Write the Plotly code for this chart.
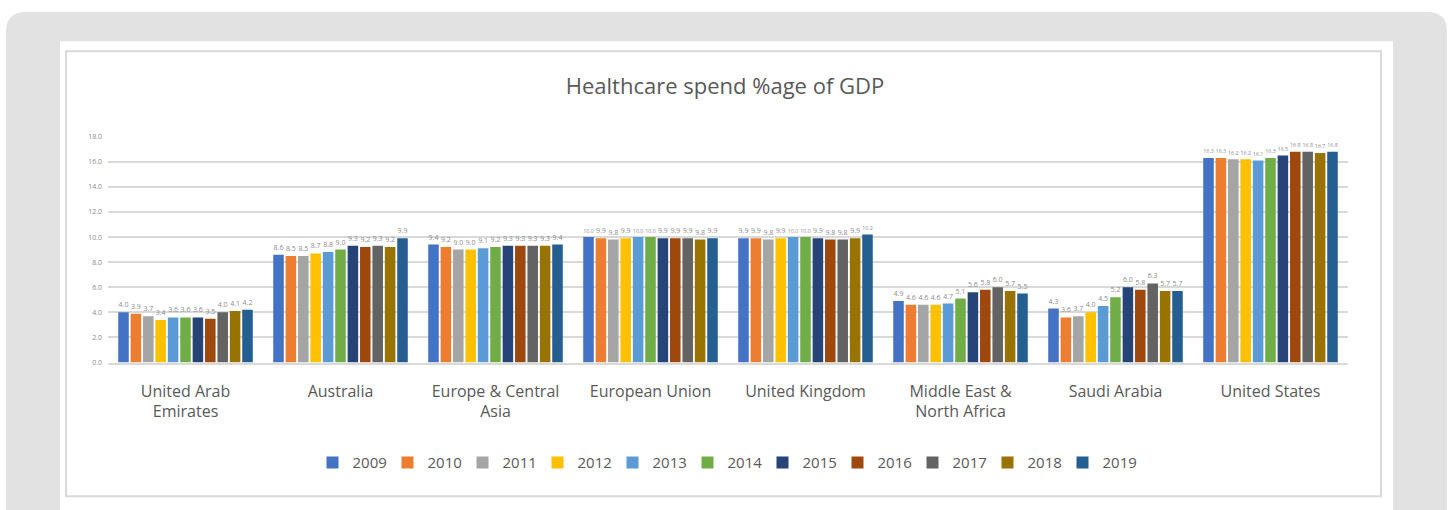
import plotly.graph_objects as go

W, H = 1451, 510

categories = ["United Arab<br>Emirates", "Australia", "Europe & Central<br>Asia", "European Union",
              "United Kingdom", "Middle East &<br>North Africa", "Saudi Arabia", "United States"]
years = ["2009", "2010", "2011", "2012", "2013", "2014", "2015", "2016", "2017", "2018", "2019"]

# values per year across the 8 regions
v2009 = [4.0, 8.6, 9.4, 10.0, 9.9, 4.9, 4.3, 16.3]
v2010 = [3.9, 8.5, 9.2, 9.9, 9.9, 4.6, 3.6, 16.3]
v2011 = [3.7, 8.5, 9.0, 9.8, 9.8, 4.6, 3.7, 16.2]
v2012 = [3.4, 8.7, 9.0, 9.9, 9.9, 4.6, 4.0, 16.2]
v2013 = [3.6, 8.8, 9.1, 10.0, 10.0, 4.7, 4.5, 16.1]
v2014 = [3.6, 9.0, 9.2, 10.0, 10.0, 5.1, 5.2, 16.3]
v2015 = [3.6, 9.3, 9.3, 9.9, 9.9, 5.6, 6.0, 16.5]
v2016 = [3.5, 9.2, 9.3, 9.9, 9.8, 5.8, 5.8, 16.8]
v2017 = [4.0, 9.3, 9.3, 9.9, 9.8, 6.0, 6.3, 16.8]
v2018 = [4.1, 9.2, 9.3, 9.8, 9.9, 5.7, 5.7, 16.7]
v2019 = [4.2, 9.9, 9.4, 9.9, 10.2, 5.5, 5.7, 16.8]
series = [v2009, v2010, v2011, v2012, v2013, v2014, v2015, v2016, v2017, v2018, v2019]

colors = ["#4472C4", "#ED7D31", "#A5A5A5", "#FFC000", "#5B9BD5", "#70AD47",
          "#264478", "#9E480E", "#636363", "#997300", "#255E91"]

y_ticks = [0, 2, 4, 6, 8, 10, 12, 14, 16, 18]

fig = go.Figure()
for yr, vals, col in zip(years, series, colors):
    fig.add_trace(go.Bar(
        x=categories, y=vals, name=yr, marker=dict(color=col, line=dict(width=0)),
        text=[f"{v:.1f}" for v in vals], textposition="outside",
        textfont=dict(size=7, color="#8c8c8c", family="Open Sans"),
        cliponaxis=False,
    ))

def px(x): return x / W
def py(y): return 1 - y / H

r = 20
shapes = [
    # outer gray rounded panel
    dict(type="path", xref="paper", yref="paper",
         path=f"M {px(6)},{py(530)} L {px(6)},{py(7 + r)} Q {px(6)},{py(7)} {px(6 + r)},{py(7)} "
              f"L {px(1447 - r)},{py(7)} Q {px(1447)},{py(7)} {px(1447)},{py(7 + r)} "
              f"L {px(1447)},{py(530)} Z",
         fillcolor="#e2e2e2", line=dict(width=0), layer="below"),
    dict(type="rect", xref="paper", yref="paper", x0=px(60), x1=px(1393), y0=py(530), y1=py(37),
         fillcolor="white", line=dict(width=0), layer="below"),
    dict(type="rect", xref="paper", yref="paper", x0=px(66), x1=px(1381), y0=py(500), y1=py(47),
         fillcolor="rgba(0,0,0,0)", line=dict(color="#d9d9d9", width=2), layer="below"),
]

fig.update_layout(
    width=W, height=H,
    margin=dict(l=0, r=0, t=0, b=0),
    paper_bgcolor="white", plot_bgcolor="rgba(0,0,0,0)",
    barmode="group", bargap=0.12, bargroupgap=0.15,
    shapes=shapes,
    title=dict(text="Healthcare spend %age of GDP", x=725 / W, xanchor="center",
               y=py(86), yanchor="middle",
               font=dict(size=22, color="#595959", family="Open Sans")),
    font=dict(family="Open Sans", color="#595959"),
    xaxis=dict(domain=[px(108), px(1348)], showgrid=False, showline=True,
               linecolor="#d9d9d9", linewidth=1.5, ticks="",
               tickfont=dict(size=16, color="#595959"), ticklabelstandoff=13),
    yaxis=dict(domain=[py(364), py(134)], range=[0, 18], tickvals=y_ticks,
               tickformat=".1f", showgrid=True, gridcolor="#d9d9d9", gridwidth=1.5,
               zeroline=False, showline=False, ticks="", ticklabelstandoff=5,
               tickfont=dict(size=7, color="#8c8c8c")),
    legend=dict(orientation="h", x=725 / W, xanchor="center", y=py(466), yanchor="middle",
                font=dict(size=15, color="#595959"), entrywidth=30, traceorder="normal",
                bgcolor="rgba(0,0,0,0)"),
    showlegend=True,
)

fig.write_html("out.html")
